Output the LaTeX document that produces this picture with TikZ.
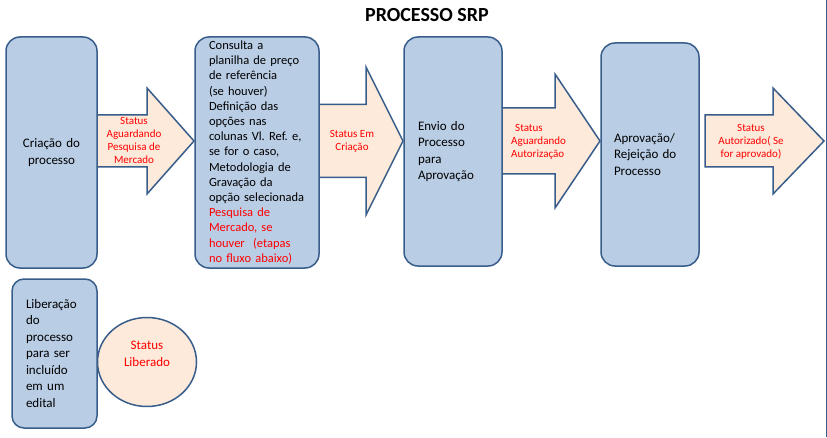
\documentclass[tikz,border=0pt]{standalone}
\usepackage{fontspec}
\setmainfont{Carlito}
\usepackage{xcolor}
\usepackage{tikz}
\usetikzlibrary{shapes.geometric}
\definecolor{boxfill}{RGB}{185,205,229}
\definecolor{boxline}{RGB}{56,93,138}
\definecolor{peach}{RGB}{253,234,218}
\definecolor{stred}{RGB}{255,0,0}
\frenchspacing
\tikzset{
  proc/.style  ={draw=boxline, fill=boxfill, line width=1.5pt, rounded corners=14pt, align=left,
                 inner xsep=14pt, inner ysep=0pt, font=\fontsize{13}{16.5}\selectfont},
  blkarr/.style={draw=boxline, fill=peach, line width=1.5pt, line join=miter},
  stlbl/.style ={text=stred, align=center, inner sep=0pt, font=\fontsize{11}{13}\selectfont},
  edgeline/.style={draw=boxline, line width=1pt},
}

\begin{document}
\begin{tikzpicture}[x=1pt,y=1pt]
\useasboundingbox (0,0) rectangle (827,437);
% title
\node[font=\bfseries\fontsize{20}{24}\selectfont] (title) at (427,422) {PROCESSO SRP};

% block arrows
\foreach \xa/\xh/\xt/\bh/\hh in {97/147/194/26/53, 319/366/403/36.5/74, 502/555/600/33/67, 705/773/824/26/53}{
  \draw[blkarr] (\xa,296+\bh) -- (\xh,296+\bh) -- (\xh,296+\hh) -- (\xt,296)
    -- (\xh,296-\hh) -- (\xh,296-\bh) -- (\xa,296-\bh) -- cycle;
}

% process boxes
\node[proc, align=center, text width=63pt, minimum height=231pt] (crt) at (51.5,284.5) {Criação do\\processo};
\node[proc, text width=104pt, inner xsep=10pt, minimum height=231pt, font=\fontsize{12.5}{15.2}\selectfont] (cons) at (257,284.5)
  {\hspace*{4pt}Consulta a\\\hspace*{4pt}planilha de preço\\\hspace*{4pt}de referência\\\hspace*{4pt}(se houver)\\\hspace*{4pt}Definição das\\\hspace*{4pt}opções nas\\\hspace*{4pt}colunas Vl. Ref. e,\\\hspace*{4pt}se for o caso,\\\hspace*{4pt}Metodologia de\\\hspace*{4pt}Gravação da\\\hspace*{4pt}opção selecionada\\
   \hspace*{4pt}\textcolor{stred}{Pesquisa de}\\\hspace*{4pt}\textcolor{stred}{Mercado, se}\\\hspace*{4pt}\textcolor{stred}{houver\ \ (etapas}\\\hspace*{4pt}\textcolor{stred}{no fluxo abaixo)}};
\node[proc, text width=70pt, minimum height=229pt] (env) at (453,285.5) {Envio do\\Processo\\para\\Aprovação};
\node[proc, text width=72pt, inner xsep=13pt, minimum height=223pt] (apr) at (650,282.5) {Aprovação/\\Rejeição do\\Processo};
\node[proc, text width=57pt, minimum height=149pt, rounded corners=12pt] (lib) at (54.5,83.5)
  {Liberação\\do\\processo\\para ser\\incluído\\em um\\edital};

% status labels
\node[stlbl] (saa) at (134,296.5) {Status\\Aguardando\\Pesquisa de\\Mercado};
\node[stlbl] (sab) at (352,295.5) {Status Em\\Criação};
\node[stlbl, align=left, anchor=west] (sac) at (511,295.5) {\hspace*{4pt}Status\\Aguardando\\Autorização};
\node[stlbl] (sad) at (751,295) {Status\\Autorizado( Se\\for aprovado)};
\node[ellipse, draw=boxline, fill=peach, line width=1.5pt, minimum width=99pt, minimum height=89pt, inner sep=0pt] (stl) at (147,75) {};
\node[stlbl, font=\fontsize{13}{17}\selectfont] (stltxt) at (147,83.5) {Status\\Liberado};

% right edge
\draw[edgeline] (826,0) -- (826,437);
\end{tikzpicture}
\end{document}
